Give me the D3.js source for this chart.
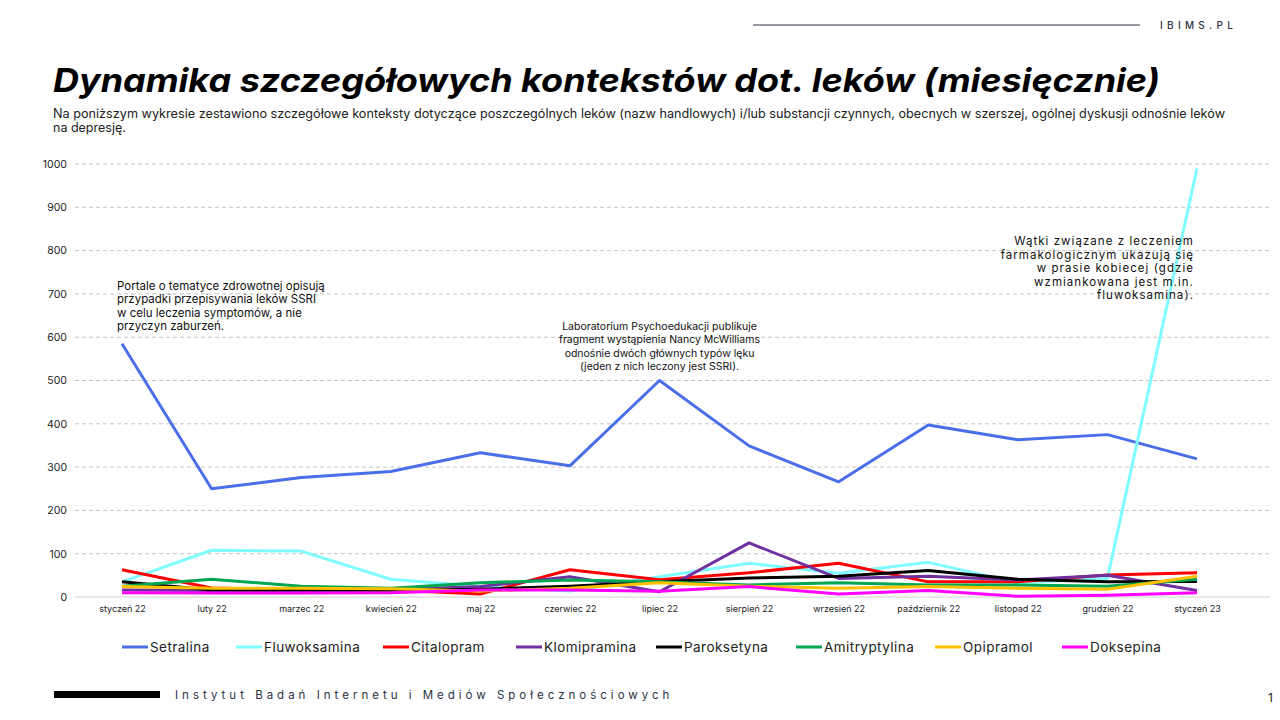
<!DOCTYPE html>
<html><head><meta charset="utf-8">
<script src="https://cdn.jsdelivr.net/npm/d3@7"></script>
<style>body{margin:0;background:#fff}svg{display:block}text{font-family:Inter,"Noto Sans",sans-serif}</style>
</head><body><svg id="c" width="1280" height="720"></svg>
<script>
const months = ["styczeń 22","luty 22","marzec 22","kwiecień 22","maj 22","czerwiec 22","lipiec 22","sierpień 22","wrzesień 22","październik 22","listopad 22","grudzień 22","styczeń 23"];
const seriesNames = ["Setralina","Fluwoksamina","Citalopram","Klomipramina","Paroksetyna","Amitryptylina","Opipramol","Doksepina"];
const setralina     = [585,250,276,290,333,303,500,349,266,397,363,375,319];
const fluwoksamina  = [35,108,106,41,24,14,47,78,55,80,33,43,990];
const citalopram    = [63,21,16,16,7,63,40,56,78,35,35,51,56];
const klomipramina  = [16,15,15,17,24,47,12,125,43,48,39,50,15];
const paroksetyna   = [35,16,16,16,18,25,35,44,48,61,41,35,36];
const amitryptylina = [25,41,25,20,33,39,35,28,33,28,28,25,41];
const opipramol     = [24,20,20,19,14,20,33,25,20,24,20,18,48];
const doksepina     = [10,9,9,10,16,16,13,24,7,15,2,4,10];
const colors = ["#4a6ee8","#7ffcff","#ff0000","#7030a0","#000000","#00a651","#ffc000","#ff00ff"];
const yTicks = [0,100,200,300,400,500,600,700,800,900,1000];
const annotations = [
  {lines:["Portale o tematyce zdrowotnej opisują","przypadki przepisywania leków SSRI","w celu leczenia symptomów, a nie","przyczyn zaburzeń."], month:0, value:710, anchor:"start"},
  {lines:["Laboratorium Psychoedukacji publikuje","fragment wystąpienia Nancy McWilliams","odnośnie dwóch głównych typów lęku","(jeden z nich leczony jest SSRI)."], month:6, value:617, anchor:"middle"},
  {lines:["Wątki związane z leczeniem","farmakologicznym ukazują się","w prasie kobiecej (gdzie","wzmiankowana jest m.in.","fluwoksamina)."], month:12, value:812, anchor:"end"}
];
const data = [setralina,fluwoksamina,citalopram,klomipramina,paroksetyna,amitryptylina,opipramol,doksepina];

const svg = d3.select("#c");
const x = d3.scalePoint().domain(months).range([122,1197]);
const y = d3.scaleLinear().domain([0,1000]).range([597,164]);

// header
svg.append("line").attr("x1",753).attr("x2",1140).attr("y1",25).attr("y2",25).attr("stroke","#2b3245").attr("stroke-width",1);
svg.append("text").attr("x",1160).attr("y",29).text("IBIMS.PL").attr("font-size",10).attr("fill","#2b3245").attr("letter-spacing",4.3).attr("font-weight",500);

// title
svg.append("text").attr("x",53).attr("y",92).text("Dynamika szczegółowych kontekstów dot. leków (miesięcznie)")
  .attr("font-size",33).attr("font-weight",700).attr("font-style","italic").attr("fill","#000").attr("textLength",1107).attr("lengthAdjust","spacingAndGlyphs");
svg.append("text").attr("x",53).attr("y",118).text("Na poniższym wykresie zestawiono szczegółowe konteksty dotyczące poszczególnych leków (nazw handlowych) i/lub substancji czynnych, obecnych w szerszej, ogólnej dyskusji odnośnie leków")
  .attr("font-size",12.5).attr("fill","#222").attr("textLength",1172).attr("lengthAdjust","spacingAndGlyphs");
svg.append("text").attr("x",53).attr("y",132).text("na depresję.").attr("font-size",12.5).attr("fill","#222");

// grid
const g = svg.append("g");
g.selectAll("line.grid").data(yTicks.filter(d=>d>0)).join("line")
  .attr("x1",75).attr("x2",1270).attr("y1",d=>y(d)).attr("y2",d=>y(d))
  .attr("stroke","#c4c4c4").attr("stroke-dasharray","4,3").attr("stroke-width",1);
g.append("line").attr("x1",75).attr("x2",1270).attr("y1",y(0)).attr("y2",y(0)).attr("stroke","#d0d0d0").attr("stroke-width",1);

const yAxis = d3.axisLeft(y).tickValues(yTicks).tickFormat(d3.format("d")).tickSize(0).tickPadding(0);
const ya = svg.append("g").attr("transform","translate(67,0)").call(yAxis);
ya.select(".domain").remove();
ya.selectAll("text").attr("font-size",10.5).attr("fill","#222").attr("font-family","Inter, sans-serif");

const xAxis = d3.axisBottom(x).tickSize(0).tickPadding(0);
const xa = svg.append("g").attr("transform","translate(0,606)").call(xAxis);
xa.select(".domain").remove();
xa.selectAll("text").attr("font-size",9).attr("fill","#222").attr("font-family","Inter, sans-serif");

// lines
const line = d3.line().x((d,i)=>x(months[i])).y(d=>y(d));
data.forEach((s,k)=>{
  svg.append("path").datum(s).attr("d",line).attr("fill","none").attr("stroke",colors[k]).attr("stroke-width",3).attr("stroke-linejoin","round");
});

// annotations
const annStyle = [{fs:11.5,ls:0},{fs:10.5,ls:0},{fs:11.5,ls:1.05}];
annotations.forEach((a,j)=>{
  let ax = x(months[a.month]);
  if(a.anchor==="start") ax -= 5;
  if(a.anchor==="end") ax -= 3;
  const t = svg.append("text").attr("text-anchor",a.anchor).attr("font-size",annStyle[j].fs).attr("letter-spacing",annStyle[j].ls).attr("fill","#111");
  a.lines.forEach((l,i)=>{
    t.append("tspan").attr("x",ax).attr("y",y(a.value)+i*13.5).text(l);
  });
});

// legend
const legX = [122,236,383,516,656,796,935,1062];
seriesNames.forEach((n,k)=>{
  svg.append("line").attr("x1",legX[k]).attr("x2",legX[k]+26).attr("y1",647).attr("y2",647).attr("stroke",colors[k]).attr("stroke-width",3);
  svg.append("text").attr("x",legX[k]+28).attr("y",651.5).text(n).attr("font-size",13.5).attr("letter-spacing",0.45).attr("fill","#222");
});

// footer
svg.append("rect").attr("x",54).attr("y",691).attr("width",106).attr("height",7).attr("fill","#000");
svg.append("text").attr("x",175).attr("y",699).text("Instytut Badań Internetu i Mediów Społecznościowych")
  .attr("font-size",11.5).attr("fill","#2b3245").attr("letter-spacing",4);
svg.append("text").attr("x",1268).attr("y",702).text("1").attr("font-size",12).attr("fill","#222");
</script></body></html>
